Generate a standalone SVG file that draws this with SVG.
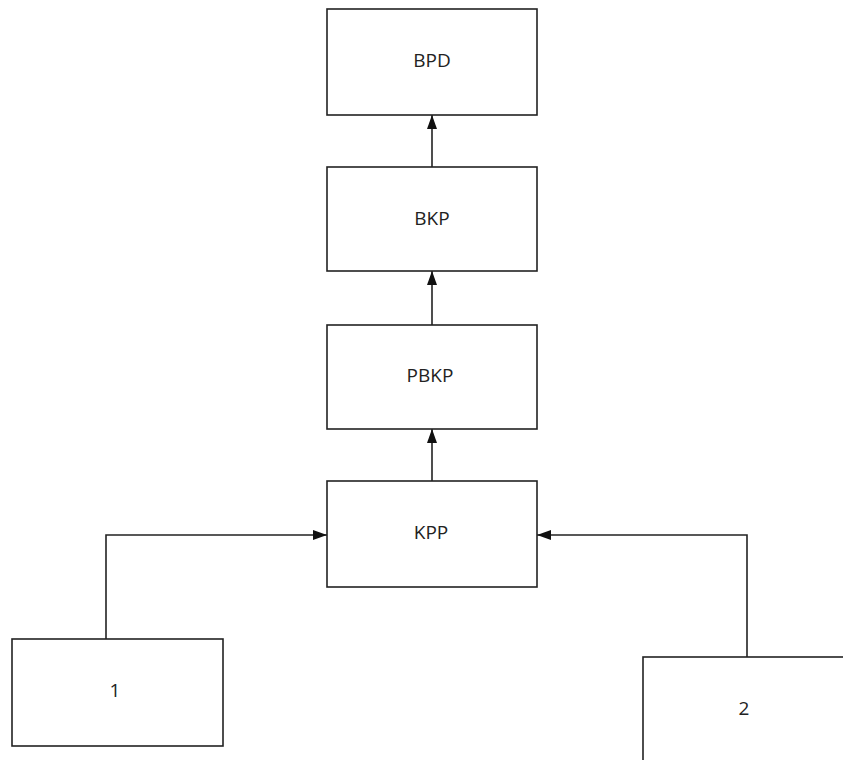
<svg xmlns="http://www.w3.org/2000/svg" width="843" height="760" viewBox="0 0 843 760">
<style>
.box{fill:#fff;stroke:#222;stroke-width:1.6}
.lbl{font-family:"Open Sans","Liberation Sans",sans-serif;font-size:19px;fill:#222;text-anchor:middle;dominant-baseline:central}
.conn{fill:none;stroke:#222;stroke-width:1.6;marker-end:url(#arr)}
</style>
<defs>
<marker id="arr" viewBox="0 0 14 10" refX="14" refY="5" markerWidth="14" markerHeight="10" markerUnits="userSpaceOnUse" orient="auto">
<path d="M0,0 L14,5 L0,10 z" fill="#111"/>
</marker>
</defs>
<rect width="843" height="760" fill="#fff"/>
<g id="connectors">
<path class="conn" d="M432,167 V115"/>
<path class="conn" d="M432,325 V271"/>
<path class="conn" d="M432,481 V429"/>
<path class="conn" d="M106,639 V535 H327"/>
<path class="conn" d="M747,657 V535 H537"/>
</g>
<g id="BPD"><rect class="box" x="327" y="9" width="210" height="106"/><text class="lbl" x="432" y="60">BPD</text></g>
<g id="BKP"><rect class="box" x="327" y="167" width="210" height="104"/><text class="lbl" x="432" y="218">BKP</text></g>
<g id="PBKP"><rect class="box" x="327" y="325" width="210" height="104"/><text class="lbl" x="430" y="375">PBKP</text></g>
<g id="KPP"><rect class="box" x="327" y="481" width="210" height="106"/><text class="lbl" x="431" y="532">KPP</text></g>
<g id="n1"><rect class="box" x="12" y="639" width="211" height="107"/><text class="lbl" x="115" y="690">1</text></g>
<g id="n2"><rect class="box" x="643" y="657" width="210" height="110"/><text class="lbl" x="744" y="708">2</text></g>
</svg>
